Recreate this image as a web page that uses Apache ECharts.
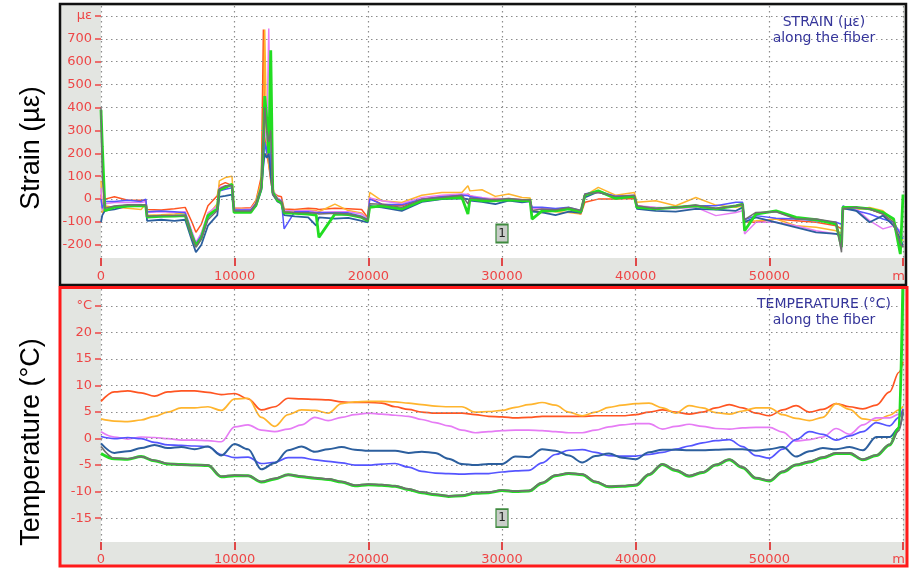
<!DOCTYPE html>
<html>
<head>
<meta charset="utf-8">
<title>Strain / Temperature along the fiber</title>
<script src="https://cdn.jsdelivr.net/npm/echarts@6/dist/echarts.min.js"></script>
<style>
    html,body{margin:0;padding:0;background:#fff;}
    #main{width:913px;height:568px;}
</style>
</head>
<body>
<div id="main"></div>
<script>
// distances (m) for the strain traces
var strainDist = [0,100,300,1000,2000,3000,3350,3450,4500,5500,
    6300,6800,7100,7500,8000,8700,8850,9300,9800,9950,
    10500,11200,11600,12000,12150,12250,12400,12550,12700,12850,
    13200,13500,13700,14500,15500,16100,16300,17500,18500,19500,
    19950,20100,21000,22500,24000,25500,27000,27450,27600,28500,
    29500,30500,31500,32100,32250,33000,34000,35000,35900,36200,
    37200,38500,39900,40100,41500,43000,44500,46000,47500,48000,
    48150,49000,50500,52000,53500,55000,55400,55500,55650,56500,
    57500,58500,59300,59800,60000];

var strainRed = [20,-40,0,10,-5,-5,-5,-45,-48,-42, -36,-100,-145,-110,-29,15,60,72,60,-40,
    -40,-38,-5,100,740,300,200,150,80,30, 15,10,-43,-45,-40,-42,-45,-40,-42,-45,
    -80,5,-22,-29,0,12,12,22,15,0, 3,0,-3,-3,-50,-58,-51,-43,-65,-14,
    0,0,3,-29,-43,-36,-29,-41,-29,-22, -100,-101,-87,-94,-101,-116,-130,-35,-43,-41,
    -43,-65,-116,-181,-203];
var strainOrange = [80,-60,-30,-35,-40,-45,-20,-70,-68,-65, -60,-150,-203,-150,-70,-20,80,94,100,-45,
    -42,-45,-10,80,300,740,250,150,100,50, -10,-15,-55,-50,-48,-50,-55,-22,-50,-60,
    -90,29,-7,-15,17,29,29,58,36,41, 12,22,7,5,-40,-43,-55,-58,-65,15,
    51,17,29,-14,-7,-29,7,-26,-36,-29, -95,-94,-87,-116,-123,-138,-150,-40,-43,-43,
    -36,-51,-94,-160,-181];
var strainViolet = [50,-50,-20,-15,-15,-15,-10,-58,-55,-58, -55,-140,-189,-150,-60,-30,50,58,60,-43,
    -45,-43,-15,60,200,300,250,745,150,40, 5,-5,-50,-52,-50,-55,-58,-55,-55,-65,
    -85,5,-7,-20,7,17,22,20,15,7, 0,3,-3,-3,-40,-41,-43,-41,-55,22,
    29,14,17,-29,-36,-41,-36,-72,-58,-51, -152,-101,-101,-116,-138,-152,-160,-30,-36,-43,
    -94,-130,-116,-138,-160];
var strainBlue = [0,-40,-10,-10,-5,-10,0,-55,-52,-55, -60,-150,-196,-160,-80,-40,35,43,50,-48,
    -48,-47,-20,50,150,250,200,300,150,30, 0,-10,-130,-55,-55,-60,-58,-60,-60,-75,
    -90,0,-22,-25,0,10,17,15,10,3, -7,-3,-7,-5,-35,-36,-41,-36,-50,22,
    36,12,14,-36,-41,-36,-29,-29,-14,-14, -90,-72,-84,-87,-94,-101,-110,-30,-33,-51,
    -65,-87,-101,-152,-174];
var strainNavy = [-100,-70,-50,-45,-30,-25,-30,-95,-90,-95, -90,-180,-232,-200,-116,-70,10,14,20,-55,
    -55,-55,-30,40,150,200,180,200,100,20, -10,-20,-70,-75,-80,-116,-80,-85,-82,-95,
    -101,-30,-36,-51,-12,0,3,0,-7,-12, -22,-7,-14,-10,-55,-58,-70,-55,-60,7,
    32,7,12,-43,-51,-55,-43,-46,-51,-36, -100,-80,-101,-123,-145,-152,-160,-40,-41,-51,
    -101,-72,-116,-174,-203];
var strainGreen = [390,230,-50,-35,-30,-28,-30,-78,-75,-74, -72,-160,-203,-170,-72,-43,40,51,65,-58,
    -58,-58,-25,50,250,450,350,200,650,30, -5,-15,-60,-62,-65,-70,-167,-65,-68,-80,
    -95,-36,-29,-43,-7,3,7,-65,0,-7, -7,-3,-7,-5,-87,-51,-51,-43,-55,17,
    36,3,12,-36,-43,-36,-29,-43,-29,-22, -138,-65,-51,-80,-90,-109,-210,-35,-36,-36,
    -43,-58,-87,-240,20];
var strainGray = [400,90,-40,-30,-25,-26,-25,-75,-72,-72, -70,-165,-210,-175,-90,-50,45,58,60,-52,
    -52,-52,-20,50,270,400,300,250,300,20, 0,-10,-55,-58,-60,-62,-65,-62,-65,-78,
    -92,-20,-22,-36,0,7,17,-20,5,0, -3,3,-3,-3,-50,-43,-46,-36,-50,22,
    29,12,17,-29,-41,-36,-26,-41,-29,-22, -90,-58,-55,-87,-87,-101,-232,-40,-41,-36,
    -43,-65,-101,-196,-210];

// distances (m) for the temperature traces
var tempDist = [0,1000,2000,3000,4000,5000,6000,7000,8000,9000,
    10000,11000,12000,13000,14000,15000,16000,17000,18000,19000,
    20000,21000,22000,23000,24000,25000,26000,27000,28000,29000,
    30000,31000,32000,33000,34000,35000,36000,37000,38000,39000,
    40000,41000,42000,43000,44000,45000,46000,47000,48000,49000,
    50000,51000,52000,53000,54000,55000,56000,57000,58000,59000,
    59700,60000];

var tempRed = [7.0,8.8,9.0,8.6,8.0,8.8,9.0,9.0,8.7,8.3, 8.5,7.5,5.4,6.0,7.6,7.5,7.4,7.3,6.9,6.8,
    6.8,6.7,6.0,5.5,5.0,4.8,4.8,4.8,4.5,4.2, 4.1,3.9,4.0,4.2,4.2,4.2,4.2,4.3,4.3,4.3,
    4.5,5.0,5.4,5.0,4.6,5.0,5.8,6.4,5.8,4.8, 4.3,5.4,6.2,5.0,5.5,6.6,6.0,5.6,6.3,8.8,
    12.5,14.5];
var tempOrange = [3.7,3.3,3.2,3.5,4.2,5.0,5.8,5.8,6.0,5.3, 7.5,7.6,4.0,2.3,4.5,5.4,5.3,4.8,6.6,6.9,
    7.0,7.0,6.9,6.7,6.4,6.1,6.0,6.0,5.0,5.1, 5.3,5.9,6.4,6.8,6.3,5.0,4.3,5.0,5.9,6.3,
    6.6,6.7,5.8,4.8,6.2,5.8,4.9,4.6,5.2,5.8, 5.8,4.5,3.8,3.4,4.0,6.6,5.5,3.7,3.4,4.4,
    5.4,6.1];
var tempViolet = [1.3,0.3,-0.1,0.3,0.2,0.0,-0.3,-0.3,-0.4,-0.6, 2.2,2.6,1.6,1.3,1.8,2.6,4.0,3.4,4.0,4.5,
    4.8,4.6,4.4,4.2,3.6,3.0,2.4,1.6,1.1,1.3, 1.5,1.6,1.6,1.5,1.3,1.1,1.1,1.6,2.2,2.6,
    2.8,2.8,1.8,2.3,2.7,2.3,1.9,1.8,2.0,2.1, 2.1,1.2,-0.5,-0.2,0.3,1.9,0.8,2.6,3.9,3.9,
    4.6,5.4];
var tempBlue = [0.4,0.0,0.2,0.0,-0.7,-1.2,-1.3,-1.4,-1.5,-3.0, -3.6,-3.5,-4.7,-4.5,-3.6,-3.6,-4.0,-4.3,-4.6,-5.0,
    -5.0,-4.8,-4.7,-5.4,-6.2,-6.5,-6.6,-6.7,-6.6,-6.6, -6.3,-6.1,-6.0,-4.6,-3.0,-2.2,-2.1,-2.6,-3.2,-3.3,
    -3.3,-3.0,-2.6,-2.0,-1.4,-0.8,-0.4,-0.2,-1.5,-3.2, -3.7,-2.0,-0.2,1.3,0.8,-0.3,0.5,1.3,3.0,2.4,
    4.0,5.6];
var tempNavy = [-0.9,-2.7,-2.4,-1.8,-1.2,-1.8,-1.6,-2.0,-1.5,-3.2, -1.0,-2.0,-5.8,-4.6,-2.2,-1.5,-2.5,-2.0,-1.6,-2.1,
    -2.3,-2.3,-2.3,-2.7,-2.5,-2.7,-3.8,-4.8,-5.0,-4.8, -4.8,-3.4,-3.5,-2.0,-2.3,-3.2,-4.5,-3.3,-2.8,-3.6,
    -3.9,-2.6,-2.1,-2.1,-2.2,-2.2,-2.1,-2.0,-2.0,-2.3, -2.0,-1.6,-3.4,-2.4,-1.8,-2.0,-1.6,-2.2,0.3,0.3,
    2.0,5.0];
var tempGreen = [-2.8,-3.8,-3.9,-3.4,-4.2,-4.8,-4.9,-5.0,-5.1,-7.2, -7.0,-7.0,-8.2,-7.6,-6.8,-7.2,-7.5,-7.7,-8.2,-8.9,
    -8.7,-8.8,-9.0,-9.6,-10.2,-10.6,-10.9,-10.8,-10.3,-10.2, -9.8,-10.0,-9.9,-8.4,-7.0,-6.6,-6.8,-8.2,-9.1,-9.0,
    -8.8,-6.8,-4.9,-6.0,-7.1,-6.4,-5.0,-4.0,-5.5,-7.5, -8.0,-6.3,-5.0,-4.4,-3.6,-2.8,-2.8,-4.0,-3.2,-1.2,
    2.0,30];
var tempGray = [-1.5,-3.7,-3.8,-3.4,-4.1,-4.7,-4.9,-5.0,-5.0,-7.1, -6.9,-7.0,-8.1,-7.5,-6.8,-7.1,-7.4,-7.6,-8.1,-8.8,
    -8.6,-8.7,-8.9,-9.5,-10.1,-10.5,-10.8,-10.7,-10.2,-10.1, -9.7,-9.9,-9.8,-8.3,-6.9,-6.5,-6.7,-8.1,-9.0,-8.9,
    -8.7,-6.7,-4.8,-5.9,-7.0,-6.3,-4.9,-3.9,-5.4,-7.4, -7.9,-6.2,-4.9,-4.3,-3.5,-2.7,-2.7,-3.9,-3.1,-1.1,
    1.5,5.4];

var strainTicks = [-200,-100,0,100,200,300,400,500,600,700,800];
var tempTicks = [-15,-10,-5,0,5,10,15,20,25];
var marker1 = {strain: [30000, -150], temp: [30000, -15]};

var colors = ['#ff5522', '#ffb52e', '#e67cf5', '#5555ff', '#2c5f9e', '#22dd22', '#707070'];
var widths = [1.5, 1.5, 1.5, 1.5, 1.8, 2.8, 1.5];

var labelRed = '#ee4646';
var fontMain = 'DejaVu Sans';
var dotted = {color: '#8c8c8c', width: 1.2, type: [1.5, 3.5]};

function pairs(dist, vals) {
    var out = [];
    for (var i = 0; i < dist.length; i++) {
        out.push([dist[i], vals[i]]);
    }
    return out;
}

function xAxisFor(gridIndex, margin) {
    return {
        type: 'value',
        gridIndex: gridIndex,
        position: 'bottom',
        min: 0,
        max: 60000,
        interval: 10000,
        axisLine: {show: true, onZero: false, lineStyle: {color: 'rgba(0,0,0,0)'}},
        axisTick: {show: true, inside: false, length: 8, lineStyle: {color: '#e04848', width: 2}},
        axisLabel: {
            color: labelRed, fontFamily: fontMain, fontSize: 13, margin: margin,
            showMaxLabel: true,
            formatter: function (v) { return v === 60000 ? '{m|m}' : String(v); },
            rich: {m: {color: labelRed, fontFamily: fontMain, fontSize: 13, padding: [0, 9, 0, 0]}}
        },
        splitLine: {show: true, lineStyle: dotted}
    };
}

function yAxisFor(gridIndex, min, max, ticks, unit) {
    var top = ticks[ticks.length - 1];
    return {
        type: 'value',
        gridIndex: gridIndex,
        min: min,
        max: max,
        axisLine: {show: false, onZero: false},
        axisTick: {show: true, length: 6, customValues: ticks, lineStyle: {color: labelRed, width: 1.5}},
        axisLabel: {
            color: labelRed, fontFamily: fontMain, fontSize: 13, margin: 9,
            customValues: ticks,
            formatter: function (v) { return v === top ? unit : String(v); }
        },
        // horizontal grid is drawn with markLine at the tick values
        splitLine: {show: false}
    };
}

function gridLines(ticks) {
    return {
        silent: true,
        symbol: 'none',
        label: {show: false},
        lineStyle: dotted,
        emphasis: {disabled: true},
        data: ticks.map(function (v) { return {yAxis: v}; })
    };
}

var strainSets = [strainRed, strainOrange, strainViolet, strainBlue, strainNavy, strainGreen, strainGray];
var tempSets = [tempRed, tempOrange, tempViolet, tempBlue, tempNavy, tempGreen, tempGray];

var markerStyle = {
    symbol: 'rect',
    symbolSize: [12, 18],
    itemStyle: {color: '#c9cdc9', borderColor: '#3f8a3f', borderWidth: 1.5},
    label: {show: true, position: 'inside', color: '#222', fontFamily: fontMain, fontSize: 12, formatter: '1'}
};

var series = [];
for (var i = 0; i < 7; i++) {
    series.push({
        type: 'line', xAxisIndex: 0, yAxisIndex: 0,
        data: pairs(strainDist, strainSets[i]),
        showSymbol: false, symbol: 'none',
        lineStyle: {color: colors[i], width: widths[i]},
        z: 2 + i
    });
    series.push({
        type: 'line', xAxisIndex: 1, yAxisIndex: 1,
        data: pairs(tempDist, tempSets[i]),
        showSymbol: false, symbol: 'none',
        smooth: 0.35, smoothMonotone: 'x',
        lineStyle: {color: colors[i], width: widths[i] + 0.2},
        z: 2 + i
    });
}
// dotted horizontal grid under the traces
series[0].markLine = gridLines(strainTicks);
series[1].markLine = gridLines(tempTicks);
// the "1" tags sit on the last (gray) traces
series[12].markPoint = Object.assign({data: [{coord: marker1.strain}]}, markerStyle);
series[13].markPoint = Object.assign({data: [{coord: marker1.temp}]}, markerStyle);

var legendFont = '14px "DejaVu Sans"';
var legendColor = '#35359a';

var option = {
    animation: false,
    backgroundColor: '#fff',
    grid: [
        {left: 101, top: 6, width: 802, height: 252, show: true, backgroundColor: '#fff', borderWidth: 0},
        {left: 101, top: 289, width: 802, height: 253, show: true, backgroundColor: '#fff', borderWidth: 0}
    ],
    xAxis: [xAxisFor(0, 12), xAxisFor(1, 11)],
    yAxis: [
        yAxisFor(0, -257, 843, strainTicks, 'µε'),
        yAxisFor(1, -19.5, 28.2, tempTicks, '°C')
    ],
    graphic: [
        // gray frame areas behind the plots
        {type: 'rect', z: -10, shape: {x: 61, y: 5, width: 844, height: 279}, style: {fill: '#e3e5e1'}},
        {type: 'rect', z: -10, shape: {x: 61, y: 288, width: 845, height: 277}, style: {fill: '#e3e5e1'}},
        {type: 'rect', z: 100, shape: {x: 60, y: 4, width: 846, height: 281}, style: {fill: 'none', stroke: '#111', lineWidth: 2.5}},
        {type: 'rect', z: 100, shape: {x: 60, y: 287.5, width: 847, height: 278.5}, style: {fill: 'none', stroke: '#ff1a1a', lineWidth: 3}},
        {type: 'text', z: 50, x: 824, y: 22, style: {text: 'STRAIN (µε)', fill: legendColor, font: legendFont, align: 'center', verticalAlign: 'middle'}},
        {type: 'text', z: 50, x: 824, y: 38, style: {text: 'along the fiber', fill: legendColor, font: legendFont, align: 'center', verticalAlign: 'middle'}},
        {type: 'text', z: 50, x: 824, y: 304, style: {text: 'TEMPERATURE (°C)', fill: legendColor, font: legendFont, align: 'center', verticalAlign: 'middle'}},
        {type: 'text', z: 50, x: 824, y: 320, style: {text: 'along the fiber', fill: legendColor, font: legendFont, align: 'center', verticalAlign: 'middle'}},
        {type: 'text', x: 32, y: 148, rotation: Math.PI / 2, style: {text: 'Strain (µε)', fill: '#000', font: '27px "Liberation Sans"', align: 'center', verticalAlign: 'middle'}},
        {type: 'text', x: 32, y: 442, rotation: Math.PI / 2, style: {text: 'Temperature (°C)', fill: '#000', font: '27px "Liberation Sans"', align: 'center', verticalAlign: 'middle'}}
    ],
    series: series
};

var myChart = echarts.init(document.getElementById('main'));
myChart.setOption(option);
</script>
</body>
</html>
